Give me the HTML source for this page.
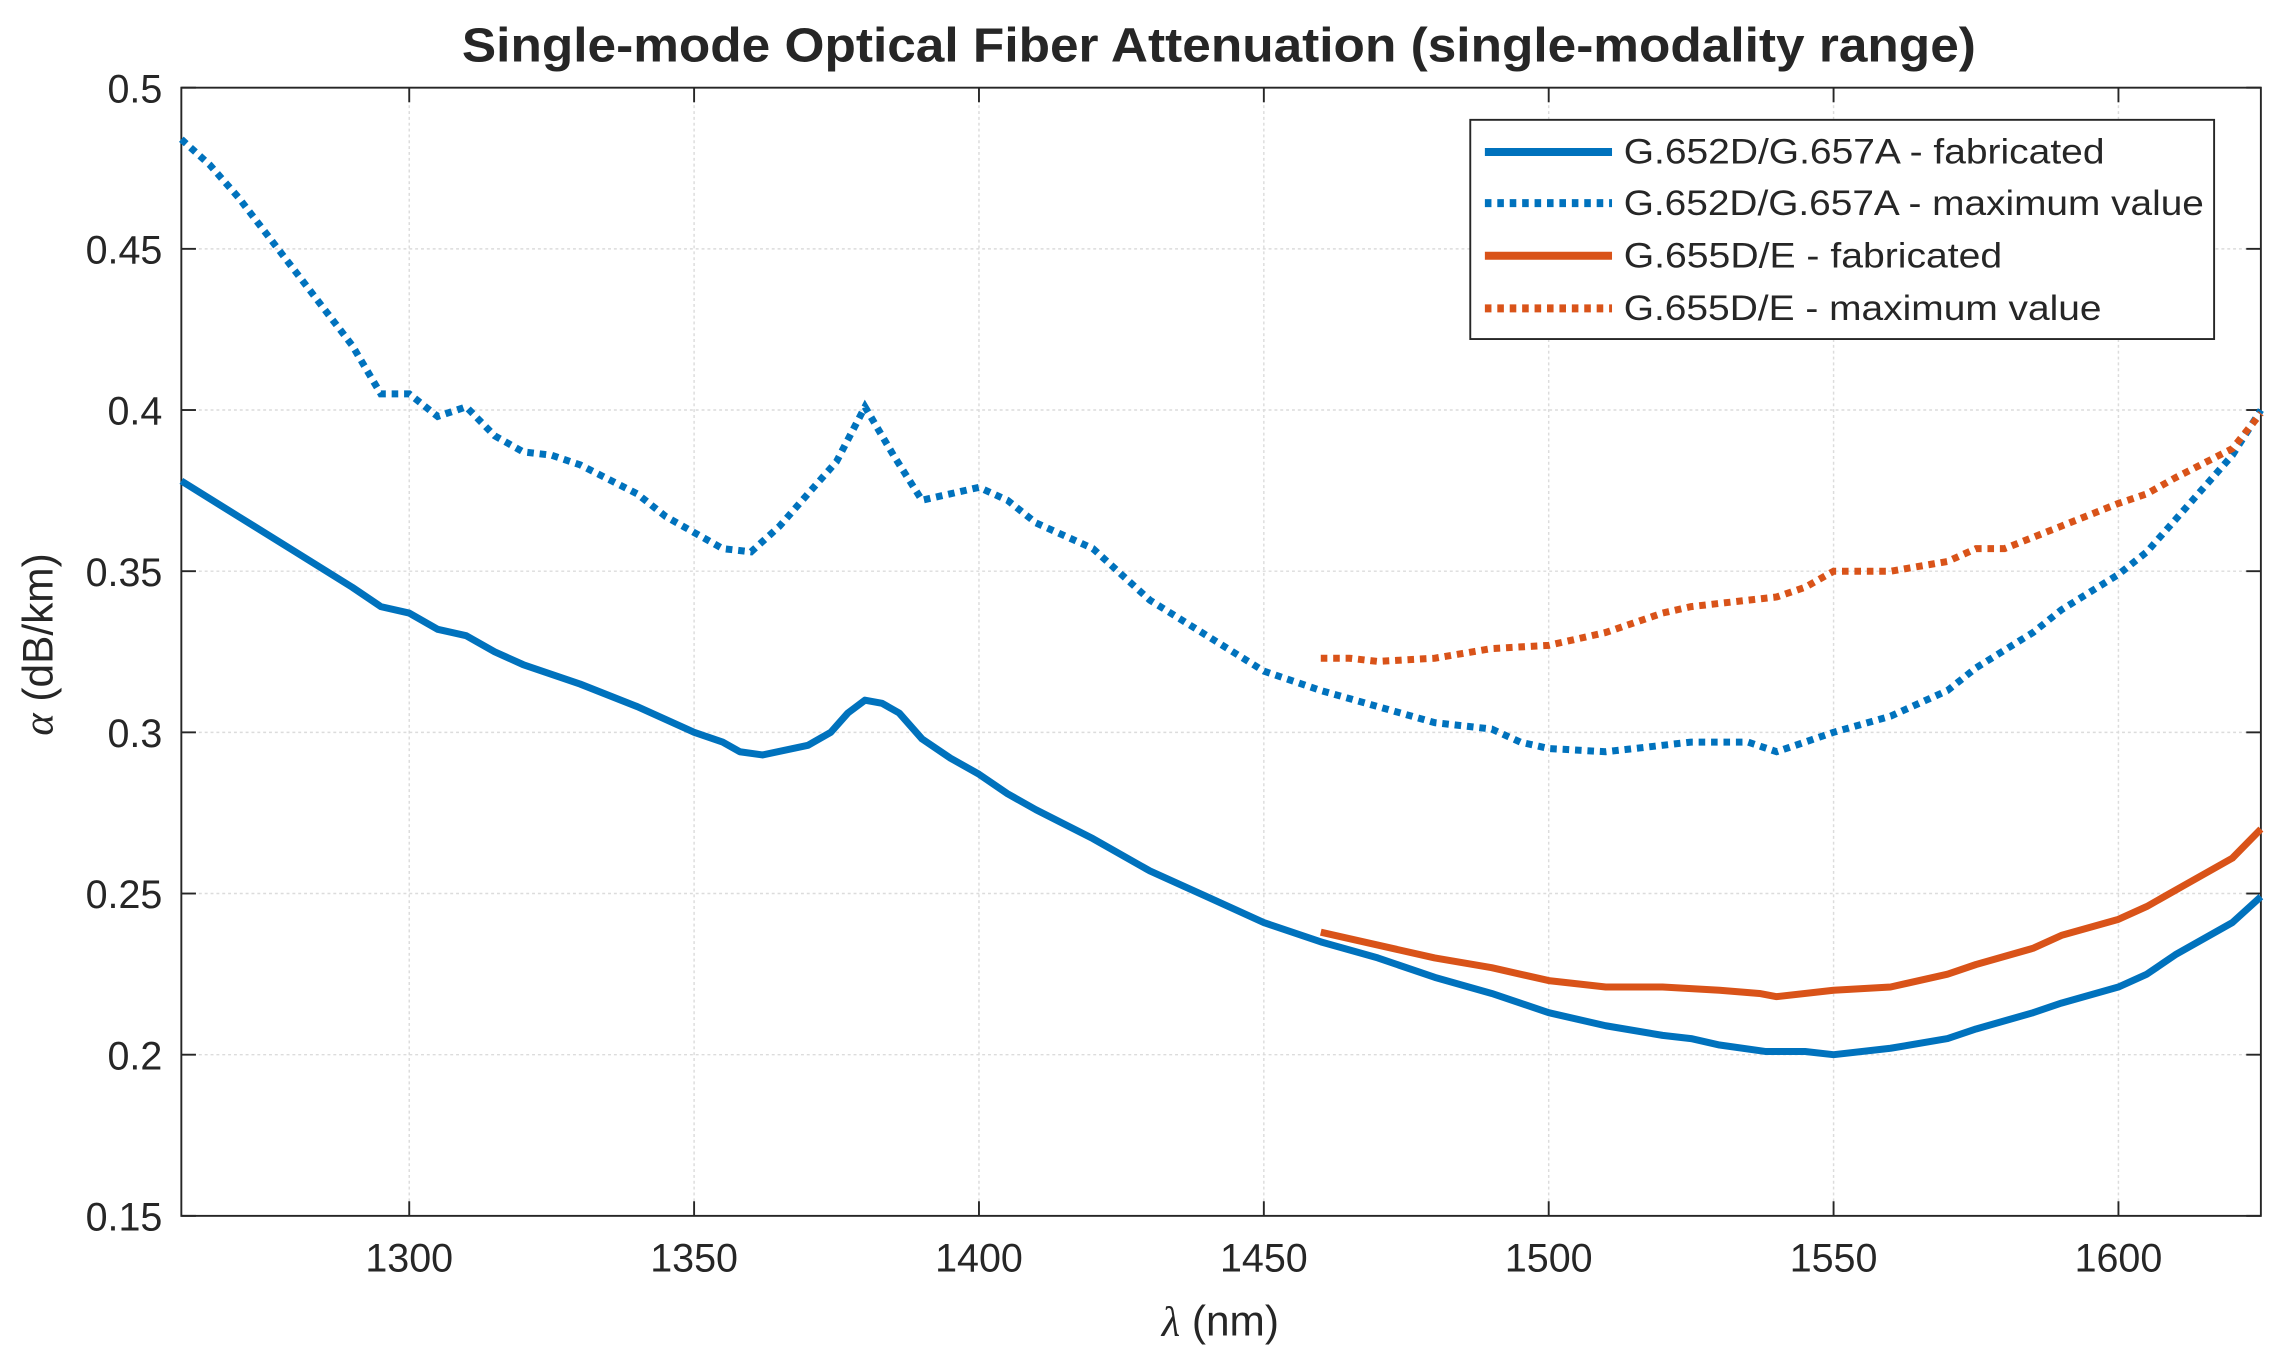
<!DOCTYPE html>
<html><head><meta charset="utf-8"><style>
html,body{margin:0;padding:0;background:#fff;}
svg{display:block;}
text{font-family:"Liberation Sans",Arial,sans-serif;fill:#262626;}
</style></head><body>
<svg id="s" width="2280" height="1362" viewBox="0 0 1560 932" xmlns="http://www.w3.org/2000/svg">
<rect width="1560" height="932" fill="#fff"/>
<g id="grid" stroke="#dcdcdc" stroke-width="1" stroke-dasharray="2 2"></g>
<rect x="124" y="60" width="1423" height="772" fill="none" stroke="#262626" stroke-width="1.3"/>
<g id="ticks" stroke="#262626" stroke-width="1.3"></g>
<g id="labels" font-size="27"></g>
<g id="series" fill="none" stroke-width="4.8"></g>
<text x="834" y="42" font-size="33" font-weight="bold" text-anchor="middle" fill="#000" textLength="1036" lengthAdjust="spacingAndGlyphs">Single-mode Optical Fiber Attenuation (single-modality range)</text>
<text x="835" y="914" font-size="29" text-anchor="middle"><tspan font-family="Liberation Serif" font-style="italic">λ</tspan> (nm)</text>
<text transform="translate(36,441) rotate(-90)" font-size="29" text-anchor="middle"><tspan font-family="Liberation Serif" font-style="italic">α</tspan> (dB/km)</text>
<rect x="1006" y="82" width="509" height="150" fill="#fff" stroke="#262626" stroke-width="1.3"/>
<g stroke-width="5.5">
<line x1="1016" y1="104" x2="1103" y2="104" stroke="#0072BD"/>
<line x1="1016" y1="139" x2="1103" y2="139" stroke="#0072BD" stroke-dasharray="4.5 4"/>
<line x1="1016" y1="175" x2="1103" y2="175" stroke="#D95319"/>
<line x1="1016" y1="211" x2="1103" y2="211" stroke="#D95319" stroke-dasharray="4.5 4"/>
</g>
<g font-size="24" fill="#000">
<text x="1111" y="112" textLength="329" lengthAdjust="spacingAndGlyphs">G.652D/G.657A - fabricated</text>
<text x="1111" y="147" textLength="397" lengthAdjust="spacingAndGlyphs">G.652D/G.657A - maximum value</text>
<text x="1111" y="183" textLength="259" lengthAdjust="spacingAndGlyphs">G.655D/E - fabricated</text>
<text x="1111" y="219" textLength="327" lengthAdjust="spacingAndGlyphs">G.655D/E - maximum value</text>
</g>
</svg>
<script>
const L=124,R=1547,T=60,B=832;
const X=v=>L+(v-1260)/365*(R-L), Y=v=>T+(0.5-v)/0.35*(B-T);
const ns="http://www.w3.org/2000/svg";
function el(p,t,a,txt){const e=document.createElementNS(ns,t);for(const k in a)e.setAttribute(k,a[k]);if(txt)e.textContent=txt;document.getElementById(p).appendChild(e);}
for(let x=1300;x<=1600;x+=50){el('grid','line',{x1:X(x),x2:X(x),y1:T,y2:B});el('ticks','line',{x1:X(x),x2:X(x),y1:B,y2:B-10});el('ticks','line',{x1:X(x),x2:X(x),y1:T,y2:T+10});el('labels','text',{x:X(x),y:870,'text-anchor':'middle'},String(x));}
for(let i=0;i<=7;i++){const v=0.15+i*0.05;const y=Y(v);if(i>0&&i<7)el('grid','line',{x1:L,x2:R,y1:y,y2:y});el('ticks','line',{x1:L,x2:L+10,y1:y,y2:y});el('ticks','line',{x1:R,x2:R-10,y1:y,y2:y});el('labels','text',{x:L-13,y:y+10,'text-anchor':'end'},String(+v.toFixed(2)));}
const d={
bs:[1260,.378,1270,.367,1280,.356,1290,.345,1295,.339,1300,.337,1305,.332,1310,.330,1315,.325,1320,.321,1330,.315,1340,.308,1345,.304,1350,.300,1355,.297,1358,.294,1362,.293,1370,.296,1374,.300,1377,.306,1380,.310,1383,.309,1386,.306,1390,.298,1395,.292,1400,.287,1405,.281,1410,.276,1420,.267,1430,.257,1440,.249,1450,.241,1460,.235,1470,.230,1480,.224,1490,.219,1495,.216,1500,.213,1510,.209,1520,.206,1525,.205,1530,.203,1538,.201,1545,.201,1550,.200,1560,.202,1570,.205,1575,.208,1585,.213,1590,.216,1600,.221,1605,.225,1610,.231,1620,.241,1625,.249],
bd:[1260,.484,1265,.476,1270,.466,1280,.443,1290,.420,1295,.405,1300,.405,1305,.398,1310,.401,1315,.392,1320,.387,1325,.386,1330,.383,1340,.374,1345,.367,1350,.362,1355,.357,1360,.356,1365,.364,1370,.374,1375,.384,1380,.401,1385,.386,1390,.372,1395,.374,1400,.376,1405,.372,1410,.365,1420,.357,1425,.349,1430,.341,1440,.330,1450,.319,1460,.313,1470,.308,1480,.303,1490,.301,1495,.297,1500,.295,1510,.294,1520,.296,1525,.297,1535,.297,1540,.294,1545,.297,1550,.300,1560,.305,1570,.313,1575,.320,1585,.331,1590,.338,1600,.349,1605,.356,1610,.366,1620,.386,1625,.400],
os:[1460,.238,1470,.234,1480,.230,1490,.227,1495,.225,1500,.223,1510,.221,1520,.221,1530,.220,1537,.219,1540,.218,1550,.220,1560,.221,1570,.225,1575,.228,1585,.233,1590,.237,1600,.242,1605,.246,1610,.251,1620,.261,1625,.270],
od:[1460,.323,1465,.323,1470,.322,1480,.323,1490,.326,1500,.327,1505,.329,1510,.331,1520,.337,1525,.339,1530,.340,1540,.342,1545,.345,1550,.350,1560,.350,1570,.353,1575,.357,1580,.357,1590,.364,1600,.371,1605,.374,1610,.379,1620,.388,1625,.399]};
function pts(a){let s=[];for(let i=0;i<a.length;i+=2)s.push(X(a[i]).toFixed(1)+','+Y(a[i+1]).toFixed(1));return s.join(' ');}
el('series','polyline',{points:pts(d.bd),stroke:'#0072BD','stroke-dasharray':'4.5 4'});
el('series','polyline',{points:pts(d.od),stroke:'#D95319','stroke-dasharray':'4.5 4'});
el('series','polyline',{points:pts(d.bs),stroke:'#0072BD','stroke-linejoin':'round'});
el('series','polyline',{points:pts(d.os),stroke:'#D95319','stroke-linejoin':'round'});
</script>
</body></html>
